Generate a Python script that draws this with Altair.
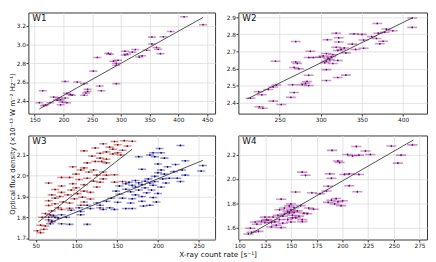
import altair as alt
import pandas as pd

# ---------------- data ----------------
W1_x = [410, 443, 387, 374, 354, 354, 362, 365, 345, 369, 325, 307, 320, 311, 307, 278, 281, 337, 332, 259,
        295, 287, 292, 292, 252, 203, 224, 236, 292, 263, 242, 242, 266, 164, 239, 206, 212, 215, 236, 183,
        192, 203, 195, 189, 198, 206, 158, 177, 169, 166, 195]
W1_y = [3.297, 3.213, 3.14, 3.083, 3.08, 3.007, 2.97, 2.95, 2.94, 2.903, 2.947, 2.93, 2.92, 2.9, 2.89, 2.907,
        2.897, 2.88, 2.867, 2.863, 2.833, 2.823, 2.8, 2.78, 2.717, 2.607, 2.6, 2.583, 2.583, 2.557, 2.523, 2.5,
        2.507, 2.507, 2.483, 2.48, 2.467, 2.46, 2.46, 2.44, 2.43, 2.43, 2.41, 2.407, 2.387, 2.38, 2.38, 2.38,
        2.357, 2.347, 2.357]
W1_fit_x = [158, 443]
W1_fit_y = [2.313, 3.29]

W2_x = [411, 411, 368.6, 379.6, 387.5, 377.6, 369.8, 318.7, 340.3, 350, 361.8, 367.7, 321.8, 352, 308, 375.6,
        321.8, 269.6, 338.3, 371.7, 352, 318.7, 328.5, 324.6, 342.3, 320.7, 287.3, 330.5, 306.8, 314.7, 302.9,
        312.7, 291.2, 285.3, 308.8, 299, 310.8, 320.7, 306.8, 245, 269.6, 304.8, 314.7, 271.5, 267.6, 273.5,
        306.8, 285.3, 330.5, 320.7, 306.8, 283.3, 281.4, 265.7, 277.5, 285.3, 246.1, 242.2, 236.3, 224.5,
        228.4, 267.6, 263.7, 214.7, 242.2, 252, 225.3, 229.6]
W2_y = [2.895, 2.84, 2.863, 2.83, 2.82, 2.811, 2.806, 2.806, 2.802, 2.799, 2.786, 2.775, 2.779, 2.766, 2.768,
        2.759, 2.755, 2.757, 2.742, 2.744, 2.718, 2.724, 2.72, 2.711, 2.711, 2.705, 2.7, 2.691, 2.687, 2.681,
        2.673, 2.669, 2.664, 2.664, 2.66, 2.666, 2.651, 2.647, 2.642, 2.642, 2.638, 2.633, 2.629, 2.629, 2.606,
        2.598, 2.593, 2.56, 2.561, 2.547, 2.529, 2.524, 2.513, 2.505, 2.505, 2.5, 2.503, 2.492, 2.477, 2.464,
        2.446, 2.459, 2.431, 2.426, 2.409, 2.389, 2.376, 2.367]
W2_fit_x = [210.7, 411]
W2_fit_y = [2.422, 2.895]

W3_red_x = [158.5, 146.6, 168.4, 132.8, 150.5, 162.3, 140.6, 123, 144.6, 156.4, 109.2, 136.7, 150.5, 128.9,
            144.6, 154.4, 119, 128.9, 136.7, 123, 130.9, 113.1, 136.7, 95.4, 109.2, 105.2, 121, 115.1, 132.8,
            99.4, 125, 136.7, 146.6, 81.6, 91.5, 113.1, 132.8, 103.2, 121, 128.9, 146.6, 156.4, 65.8, 95.4,
            109.2, 81.6, 125, 99.4, 73.7, 93.5, 109.2, 81.6, 117.1, 101.3, 69.7, 89.5, 79.6, 107.2, 73.7, 97.4,
            117.1, 65.8, 83.6, 109.2, 91.5, 73.7, 65.8, 105.2, 77.5, 91.5, 81.6, 128.9, 69.7, 61.8, 67.7, 73.7,
            57.8, 65.8, 55.9, 61.8, 69.7, 52, 55.9, 59.9]
W3_red_y = [2.169, 2.165, 2.166, 2.154, 2.149, 2.143, 2.138, 2.134, 2.128, 2.123, 2.12, 2.115, 2.111, 2.108,
            2.105, 2.1, 2.095, 2.085, 2.08, 2.069, 2.069, 2.062, 2.062, 2.043, 2.038, 2.028, 2.028, 2.018, 2.018,
            2.008, 2.003, 2.003, 2.005, 1.992, 1.992, 1.988, 1.985, 1.982, 1.974, 1.969, 1.969, 1.972, 1.965,
            1.962, 1.957, 1.951, 1.946, 1.942, 1.934, 1.931, 1.926, 1.92, 1.92, 1.914, 1.908, 1.908, 1.9, 1.897,
            1.892, 1.889, 1.888, 1.88, 1.874, 1.874, 1.869, 1.865, 1.857, 1.858, 1.846, 1.843, 1.838, 1.846,
            1.831, 1.818, 1.812, 1.8, 1.8, 1.788, 1.762, 1.758, 1.777, 1.735, 1.726, 1.742]
W3_red_fit_x = [53.2, 168.3]
W3_red_fit_y = [1.777, 2.128]

W3_blue_x = [227.5, 201.9, 194, 203.8, 190, 196, 176.3, 207.8, 233.4, 199.9, 221.5, 255, 211.7, 180.3, 203.8,
             229.5, 252.9, 219.5, 199.9, 207.8, 233.4, 196, 213.7, 223.6, 188.1, 205.8, 172.3, 184.1, 196,
             164.4, 176.3, 190, 209.7, 227.5, 160.5, 180.3, 168.3, 193.9, 203.8, 152.6, 172.3, 184.1, 160.5,
             176.3, 192, 148.6, 166.4, 186.1, 199.9, 152.6, 172.3, 180.3, 194, 142.7, 156.4, 168.3, 136.8,
             180.3, 198, 150.5, 125, 166.4, 113.1, 128.9, 182.2, 190, 103.2, 140.7, 117.1, 160.5, 132.8, 146.6,
             168.3, 93.5, 105.2, 81.6, 105.2, 71.7, 65.8, 77.5, 87.5, 69.7, 67.8, 81.6, 91.5, 113.1]
W3_blue_y = [2.146, 2.131, 2.111, 2.111, 2.1, 2.092, 2.092, 2.085, 2.072, 2.057, 2.054, 2.049, 2.043, 2.031,
             2.028, 2.028, 2.023, 2.02, 2.015, 2.008, 2.003, 1.997, 1.988, 1.988, 1.985, 1.985, 1.977, 1.974,
             1.972, 1.969, 1.966, 1.965, 1.965, 1.972, 1.962, 1.957, 1.954, 1.954, 1.946, 1.951, 1.946, 1.942,
             1.935, 1.931, 1.931, 1.926, 1.923, 1.918, 1.915, 1.911, 1.908, 1.9, 1.895, 1.892, 1.892, 1.889,
             1.877, 1.877, 1.874, 1.872, 1.869, 1.869, 1.858, 1.858, 1.854, 1.858, 1.846, 1.846, 1.842, 1.842,
             1.838, 1.838, 1.842, 1.834, 1.828, 1.812, 1.812, 1.808, 1.8, 1.797, 1.8, 1.782, 1.769, 1.769,
             1.766, 1.766]
W3_blue_fit_x = [67.8, 255]
W3_blue_fit_y = [1.774, 2.074]

W4_x = [268.1, 247.6, 213.5, 222.4, 189.9, 227.1, 216, 205, 209.8, 257, 253.9, 195.6, 197.2, 160.9, 164.1,
        187.7, 201.9, 206.6, 216, 189.3, 186.1, 206.6, 214.5, 184.5, 154.5, 170.3, 178.2, 193.9, 189.3, 200.3,
        195.6, 186.1, 192.4, 198.7, 140.4, 149.9, 159.3, 148.3, 153, 167.2, 171.9, 143.5, 149.9, 156.1, 138.8,
        146.7, 153, 162.5, 165.7, 143.5, 137.2, 151.4, 157.7, 132.5, 142, 124.6, 160.9, 146.7, 138.8, 127.7,
        121.4, 134.1, 115.1, 149.9, 160.9, 124.6, 130.9, 142, 116.7, 135.7, 140.4, 130.9, 110.4, 118.3, 111.7,
        108.5, 126.2, 151.4, 154.5, 148.3]
W4_y = [2.279, 2.269, 2.266, 2.229, 2.234, 2.2, 2.195, 2.2, 2.189, 2.195, 2.129, 2.147, 2.134, 2.055, 2.029,
        2.041, 2.036, 2.041, 2.036, 2.005, 1.939, 1.944, 1.894, 1.9, 1.892, 1.886, 1.878, 1.838, 1.825, 1.82,
        1.812, 1.807, 1.794, 1.78, 1.833, 1.794, 1.78, 1.778, 1.764, 1.76, 1.751, 1.76, 1.746, 1.737, 1.746,
        1.733, 1.725, 1.719, 1.714, 1.711, 1.701, 1.701, 1.694, 1.686, 1.694, 1.686, 1.666, 1.666, 1.666, 1.66,
        1.654, 1.649, 1.646, 1.646, 1.649, 1.641, 1.641, 1.636, 1.628, 1.62, 1.6, 1.605, 1.595, 1.569, 1.561,
        1.548, 1.666, 1.68, 1.68, 1.72]
W4_fit_x = [110.4, 269]
W4_fit_y = [1.547, 2.319]

# error bar half-widths (count rate, flux)
W1_err = (7, 0.004)
W2_err = (6, 0.004)
W3_err = (5, 0.004)
W4_err = (5, 0.010)

X_TITLE = "X-ray count rate [s\u207b\u00b9]"
Y_TITLE = "Optical flux density (\u00d710\u207b\u00b9\u00b3 W m\u207b\u00b2 Hz\u207b\u00b9)"

PURPLE = "#800080"
RED = "#8b0000"
BLUE = "#00008b"

FONT = "DejaVu Sans"
PW_L, PW_R = 192, 194
PH_TOP, PH_BOT = 104, 107


def make_panel(series, fits, err, label, xdom, ydom, xticks, yticks, width, height):
    xs = alt.Scale(domain=xdom, nice=False, zero=False)
    ys = alt.Scale(domain=ydom, nice=False, zero=False)
    xax = alt.Axis(values=xticks, format="d", title=None, labelFlush=False, labelOverlap=False,
                   tickCount=50)
    yax = alt.Axis(values=yticks, format=".1f", title=None, labelOverlap=False, tickCount=50)

    layers = []
    first = True
    for xs_, ys_, col in series:
        df = pd.DataFrame({
            "x": xs_, "y": ys_,
            "xlo": [v - err[0] for v in xs_], "xhi": [v + err[0] for v in xs_],
            "ylo": [v - err[1] for v in ys_], "yhi": [v + err[1] for v in ys_],
        })
        base = alt.Chart(df)
        if first:
            xenc = alt.X("xlo:Q", scale=xs, axis=xax)
            yenc = alt.Y("y:Q", scale=ys, axis=yax)
            first = False
        else:
            xenc = alt.X("xlo:Q")
            yenc = alt.Y("y:Q")
        layers.append(base.mark_rule(strokeWidth=1.6, opacity=0.4, clip=True, color=col).encode(
            x=xenc, x2="xhi:Q", y=yenc))
        layers.append(base.mark_rule(strokeWidth=1, opacity=0.5, clip=True, color=col).encode(
            x="x:Q", y="ylo:Q", y2="yhi:Q"))
        layers.append(base.mark_circle(size=3, opacity=1, clip=True, color=col).encode(
            x="x:Q", y="y:Q"))

    for fx, fy in fits:
        fdf = pd.DataFrame({"x": fx, "y": fy})
        layers.append(alt.Chart(fdf).mark_line(color="#3a3a3a", strokeWidth=0.9, clip=True).encode(
            x="x:Q", y="y:Q"))
    txt = alt.Chart(pd.DataFrame({"t": [label]})).mark_text(
        align="left", baseline="top", fontSize=9, font=FONT, color="#111").encode(
        text="t:N", x=alt.value(4), y=alt.value(2))
    layers.append(txt)
    return alt.layer(*layers).properties(width=width, height=height)


p1 = make_panel([(W1_x, W1_y, PURPLE)], [(W1_fit_x, W1_fit_y)], W1_err, "W1",
                [139, 464], [2.263, 3.343], [150, 200, 250, 300, 350, 400, 450],
                [2.4, 2.6, 2.8, 3.0, 3.2], PW_L, PH_TOP)
p2 = make_panel([(W2_x, W2_y, PURPLE)], [(W2_fit_x, W2_fit_y)], W2_err, "W2",
                [200, 429], [2.336, 2.927], [250, 300, 350, 400],
                [2.4, 2.5, 2.6, 2.7, 2.8, 2.9], PW_R, PH_TOP)
p3 = make_panel([(W3_red_x, W3_red_y, RED), (W3_blue_x, W3_blue_y, BLUE)],
                [(W3_red_fit_x, W3_red_fit_y), (W3_blue_fit_x, W3_blue_fit_y)], W3_err, "W3",
                [41, 270], [1.693, 2.194], [50, 100, 150, 200, 250],
                [1.7, 1.8, 1.9, 2.0, 2.1], PW_L, PH_BOT)
p4 = make_panel([(W4_x, W4_y, PURPLE)], [(W4_fit_x, W4_fit_y)], W4_err, "W4",
                [98.8, 282.3], [1.502, 2.356], [100, 125, 150, 175, 200, 225, 250, 275],
                [1.6, 1.8, 2.0, 2.2], PW_R, PH_BOT)

row1 = alt.hconcat(p1, p2, spacing=9)
row2 = alt.hconcat(p3, p4, spacing=9)
grid = alt.vconcat(row1, row2, spacing=11.5).properties(
    title=alt.TitleParams(Y_TITLE, orient="left", anchor="middle", fontSize=7.2,
                          font=FONT, fontWeight="normal", offset=0, dx=-14, color="#111"))
chart = alt.vconcat(grid).properties(
    title=alt.TitleParams(X_TITLE, orient="bottom", anchor="middle", fontSize=7.5,
                          font=FONT, fontWeight="normal", offset=2, color="#111"),
    padding={"left": 0, "top": 0, "right": 0, "bottom": 0},
).configure_axis(
    labelFont=FONT, labelFontSize=6, labelColor="#222", tickColor="#333", tickSize=2.5,
    labelPadding=0.5, gridColor="#dcdcdc", gridWidth=0.8, domain=False, labelOverlap=False,
).configure_view(stroke="#333", strokeWidth=1).configure_title(font=FONT)

chart.save("out.html", embed_options={"renderer": "svg", "actions": False})
